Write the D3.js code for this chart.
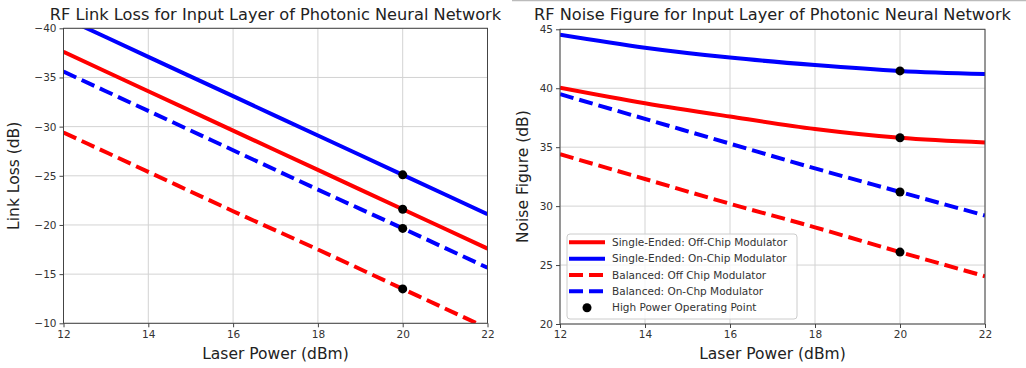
<!DOCTYPE html>
<html>
<head>
<meta charset="utf-8">
<script src="https://cdn.jsdelivr.net/npm/d3@7"></script>
<style>
  html, body { margin: 0; padding: 0; background: #fff; }
  svg { display: block; font-family: "DejaVu Sans", sans-serif; }
</style>
</head>
<body>
<svg id="chart" width="1026" height="368"></svg>
<script>
(function () {
  'use strict';

  // x positions (laser power, dBm)
  var laserPower = [12, 14, 16, 18, 20, 22];
  var xTicks = [12, 14, 16, 18, 20, 22];
  var operatingIndex = 4; // 20 dBm

  // link loss (dB), left panel
  var lossSingleOff = [-37.6, -33.6, -29.6, -25.6, -21.6, -17.6];
  var lossSingleOn = [-41.1, -37.1, -33.1, -29.1, -25.1, -21.1];
  var lossBalancedOff = [-29.4, -25.4, -21.4, -17.5, -13.5, -9.5];
  var lossBalancedOn = [-35.6, -31.6, -27.6, -23.6, -19.65, -15.65];
  var lossTicks = [-40, -35, -30, -25, -20, -15, -10];

  // noise figure (dB), right panel
  var nfSingleOff = [40.05, 38.73, 37.6, 36.55, 35.8, 35.4];
  var nfSingleOn = [44.54, 43.44, 42.6, 41.97, 41.47, 41.2];
  var nfBalancedOff = [34.4, 32.3, 30.2, 28.2, 26.1, 24.05];
  var nfBalancedOn = [39.5, 37.4, 35.3, 33.2, 31.2, 29.2];
  var nfTicks = [20, 25, 30, 35, 40, 45];

  var legendLabels = [
    'Single-Ended: Off-Chip Modulator',
    'Single-Ended: On-Chip Modulator',
    'Balanced: Off Chip Modulator',
    'Balanced: On-Chp Modulator',
    'High Power Operating Point'
  ];

  var RED = '#ff0000', BLUE = '#0000ff';
  var svg = d3.select('#chart');

  // thin frame line of the screenshot above the right panel
  svg.append('line').attr('x1', 512).attr('x2', 1026).attr('y1', 0.5).attr('y2', 0.5)
    .attr('stroke', '#bbb').attr('stroke-width', 1.5);

  function panel(opts) {
    var x = d3.scaleLinear().domain([12, 22]).range([opts.left, opts.right]);
    var y = d3.scaleLinear().domain(opts.yDomain).range([opts.top, opts.bottom]);
    var g = svg.append('g');

    // grid
    g.selectAll('line.gx').data(xTicks).enter().append('line')
      .attr('x1', function (d) { return x(d); }).attr('x2', function (d) { return x(d); })
      .attr('y1', opts.top).attr('y2', opts.bottom)
      .attr('stroke', '#d3d3d3').attr('stroke-width', 1);
    g.selectAll('line.gy').data(opts.yTicks).enter().append('line')
      .attr('y1', function (d) { return y(d); }).attr('y2', function (d) { return y(d); })
      .attr('x1', opts.left).attr('x2', opts.right)
      .attr('stroke', '#d3d3d3').attr('stroke-width', 1);

    // clip
    svg.append('clipPath').attr('id', opts.id + '-clip').append('rect')
      .attr('x', opts.left).attr('y', opts.top)
      .attr('width', opts.right - opts.left).attr('height', opts.bottom - opts.top);

    var line = d3.line()
      .x(function (d, i) { return x(laserPower[i]); })
      .y(function (d) { return y(d); })
      .curve(d3.curveMonotoneX);

    var lines = g.append('g').attr('clip-path', 'url(#' + opts.id + '-clip)');
    opts.series.forEach(function (s) {
      lines.append('path').attr('d', line(s.values))
        .attr('fill', 'none').attr('stroke', s.color).attr('stroke-width', 4)
        .attr('stroke-dasharray', s.dashed ? '14,6' : null);
    });
    lines.selectAll('circle').data(opts.series).enter().append('circle')
      .attr('cx', x(laserPower[operatingIndex]))
      .attr('cy', function (s) { return y(s.values[operatingIndex]); })
      .attr('r', 4.5).attr('fill', '#000');

    // frame
    g.append('rect').attr('x', opts.left).attr('y', opts.top)
      .attr('width', opts.right - opts.left).attr('height', opts.bottom - opts.top)
      .attr('fill', 'none').attr('stroke', '#444').attr('stroke-width', 1);

    // axes
    var xa = g.append('g').attr('transform', 'translate(0,' + opts.bottom + ')')
      .call(d3.axisBottom(x).tickValues(xTicks).tickSize(4).tickPadding(3).tickFormat(d3.format('d')));
    var ya = g.append('g').attr('transform', 'translate(' + opts.left + ',0)')
      .call(d3.axisLeft(y).tickValues(opts.yTicks).tickSize(4).tickPadding(3)
        .tickFormat(function (d) { return d < 0 ? '\u2212' + Math.abs(d) : String(d); }));
    [xa, ya].forEach(function (a) {
      a.select('.domain').remove();
      a.selectAll('line').attr('stroke', '#444');
      a.selectAll('text').attr('fill', '#333').attr('font-size', 10.5)
        .attr('font-family', '"DejaVu Sans", sans-serif');
    });

    // titles and labels
    g.append('text').attr('x', (opts.left + opts.right) / 2).attr('y', 20)
      .attr('text-anchor', 'middle').attr('font-size', 16.2).attr('fill', '#222')
      .text(opts.title);
    g.append('text').attr('x', (opts.left + opts.right) / 2).attr('y', 359)
      .attr('text-anchor', 'middle').attr('font-size', 15.5).attr('fill', '#222')
      .text('Laser Power (dBm)');
    g.append('text')
      .attr('transform', 'translate(' + opts.yLabelX + ',' + (opts.top + opts.bottom) / 2 + ') rotate(-90)')
      .attr('text-anchor', 'middle').attr('font-size', 15.5).attr('fill', '#222')
      .text(opts.yLabel);

    return g;
  }

  var leftSeries = [
    { values: lossSingleOff, color: RED, dashed: false },
    { values: lossSingleOn, color: BLUE, dashed: false },
    { values: lossBalancedOff, color: RED, dashed: true },
    { values: lossBalancedOn, color: BLUE, dashed: true }
  ];
  var rightSeries = [
    { values: nfSingleOff, color: RED, dashed: false },
    { values: nfSingleOn, color: BLUE, dashed: false },
    { values: nfBalancedOff, color: RED, dashed: true },
    { values: nfBalancedOn, color: BLUE, dashed: true }
  ];

  panel({
    id: 'loss', left: 63.5, right: 487.5, top: 28.3, bottom: 323.3,
    yDomain: [-40, -10], yTicks: lossTicks, series: leftSeries,
    title: 'RF Link Loss for Input Layer of Photonic Neural Network',
    yLabel: 'Link Loss (dB)', yLabelX: 19
  });
  var right = panel({
    id: 'nf', left: 560, right: 985, top: 29.3, bottom: 324,
    yDomain: [45, 20], yTicks: nfTicks, series: rightSeries,
    title: 'RF Noise Figure for Input Layer of Photonic Neural Network',
    yLabel: 'Noise Figure (dB)', yLabelX: 528
  });

  // legend
  var lg = right.append('g').attr('transform', 'translate(567,234)');
  lg.append('rect').attr('x', 0).attr('y', 0).attr('width', 230).attr('height', 85).attr('rx', 3)
    .attr('fill', 'rgba(255,255,255,0.8)').attr('stroke', '#ccc').attr('stroke-width', 1);
  var rows = lg.selectAll('g.row').data(legendLabels).enter().append('g')
    .attr('transform', function (d, i) { return 'translate(0,' + (8.3 + i * 16.35) + ')'; });
  rows.each(function (d, i) {
    var r = d3.select(this);
    if (i < 4) {
      var s = rightSeries[i];
      r.append('line').attr('x1', 2).attr('x2', 38).attr('y1', 0).attr('y2', 0)
        .attr('stroke', s.color).attr('stroke-width', 4)
        .attr('stroke-dasharray', s.dashed ? '14,6' : null);
    } else {
      r.append('circle').attr('cx', 20).attr('cy', 0).attr('r', 4.5).attr('fill', '#000');
    }
    r.append('text').attr('x', 45).attr('y', 0).attr('dy', '0.35em')
      .attr('font-size', 10.5).attr('fill', '#333').text(d);
  });
})();
</script>
</body>
</html>
